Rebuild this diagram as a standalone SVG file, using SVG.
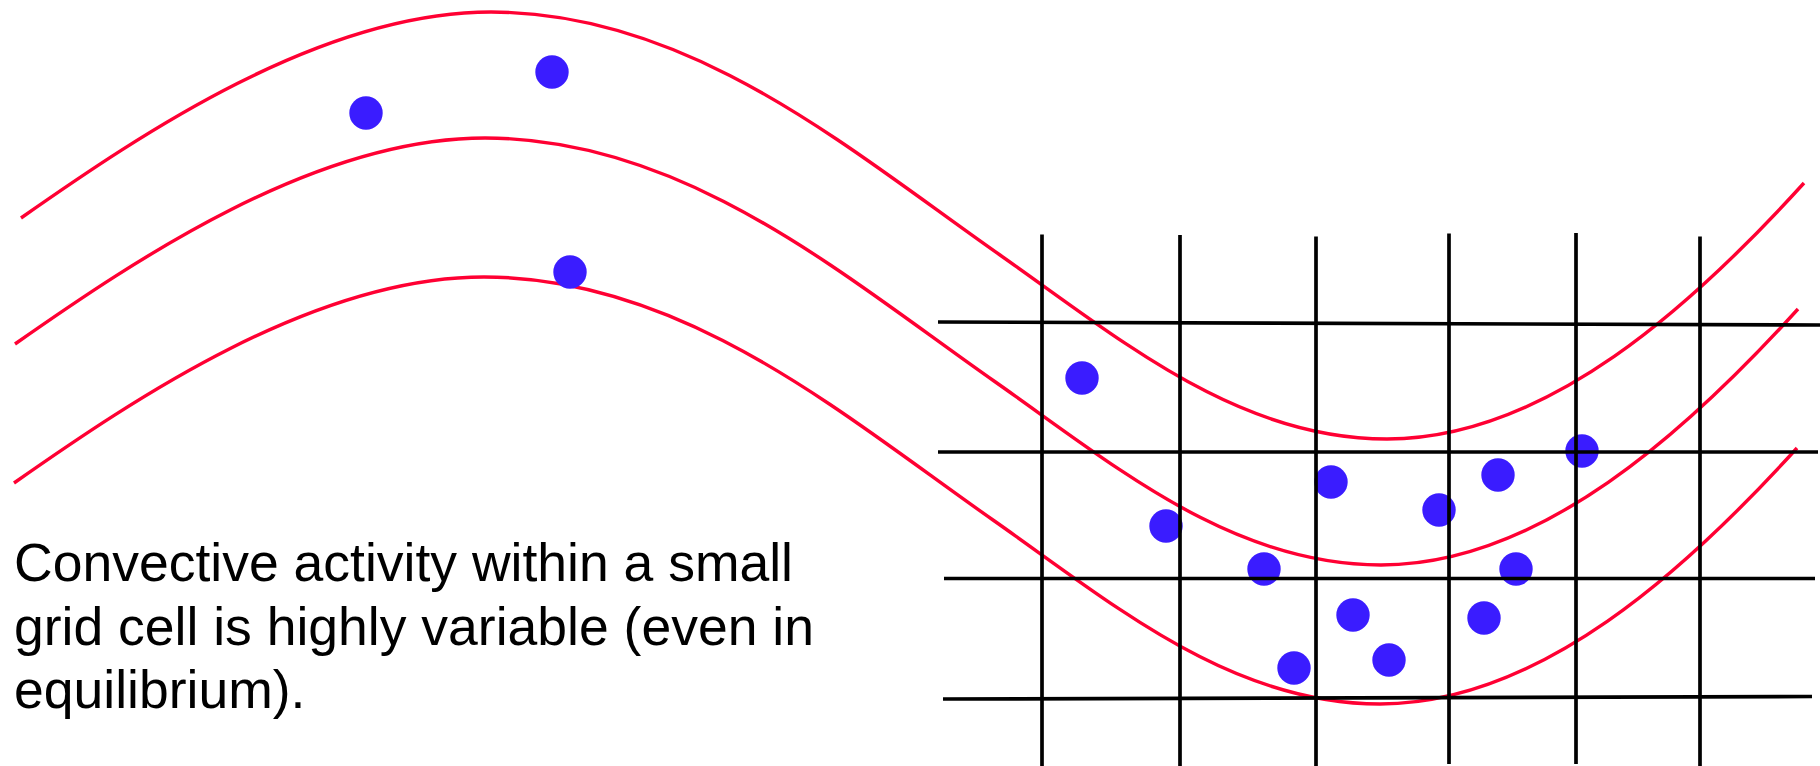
<svg xmlns="http://www.w3.org/2000/svg" width="1820" height="766" viewBox="0 0 1820 766">
  <style>
    .curve { fill: none; stroke: #FF0033; stroke-width: 3.4; }
    .dot { fill: #3A1CFF; }
    .grid line { stroke: #000; stroke-width: 3.7; }
    .label { font-family: "Liberation Sans", Arial, sans-serif; font-size: 53.5px; fill: #000; }
  </style>
  <defs>
    <path id="wave" d="M21,218 C141,134 321,12 491,12 C691,12 850,150 1000,255 C1120,339 1237,439 1387,439 C1547,439 1694,304 1804,183"/>
  </defs>
  <rect width="1820" height="766" fill="#fff"/>
  <g id="curves">
    <use href="#wave" class="curve"/>
    <use href="#wave" class="curve" transform="translate(-6,126)"/>
    <use href="#wave" class="curve" transform="translate(-7,265)"/>
  </g>
  <g id="dots">
    <circle class="dot" cx="552" cy="72" r="16.7"/>
    <circle class="dot" cx="366" cy="113" r="16.7"/>
    <circle class="dot" cx="570" cy="272" r="16.7"/>
    <circle class="dot" cx="1082" cy="378" r="16.7"/>
    <circle class="dot" cx="1166" cy="526" r="16.7"/>
    <circle class="dot" cx="1264" cy="569" r="16.7"/>
    <circle class="dot" cx="1331" cy="482" r="16.7"/>
    <circle class="dot" cx="1439" cy="510" r="16.7"/>
    <circle class="dot" cx="1353" cy="615" r="16.7"/>
    <circle class="dot" cx="1389" cy="660" r="16.7"/>
    <circle class="dot" cx="1294" cy="668" r="16.7"/>
    <circle class="dot" cx="1582" cy="451" r="16.7"/>
    <circle class="dot" cx="1498" cy="475" r="16.7"/>
    <circle class="dot" cx="1516" cy="569" r="16.7"/>
    <circle class="dot" cx="1484" cy="618" r="16.7"/>
  </g>
  <g id="grid" class="grid">
    <line x1="1042" y1="234.5" x2="1042" y2="766"/>
    <line x1="1180" y1="235" x2="1180" y2="766"/>
    <line x1="1316" y1="236.5" x2="1316" y2="766"/>
    <line x1="1449" y1="233.5" x2="1449" y2="764"/>
    <line x1="1576" y1="233" x2="1576" y2="764"/>
    <line x1="1700" y1="236.5" x2="1700" y2="766"/>
    <line x1="938" y1="322" x2="1820" y2="325"/>
    <line x1="938" y1="452" x2="1818" y2="452"/>
    <line x1="944" y1="578.5" x2="1815" y2="578.5"/>
    <line x1="943" y1="699" x2="1812" y2="696.5"/>
  </g>
  <g id="caption">
    <text class="label" x="14" y="581">Convective activity within a small</text>
    <text class="label" x="14" y="645">grid cell is highly variable (even in</text>
    <text class="label" x="14" y="708">equilibrium).</text>
  </g>
</svg>
